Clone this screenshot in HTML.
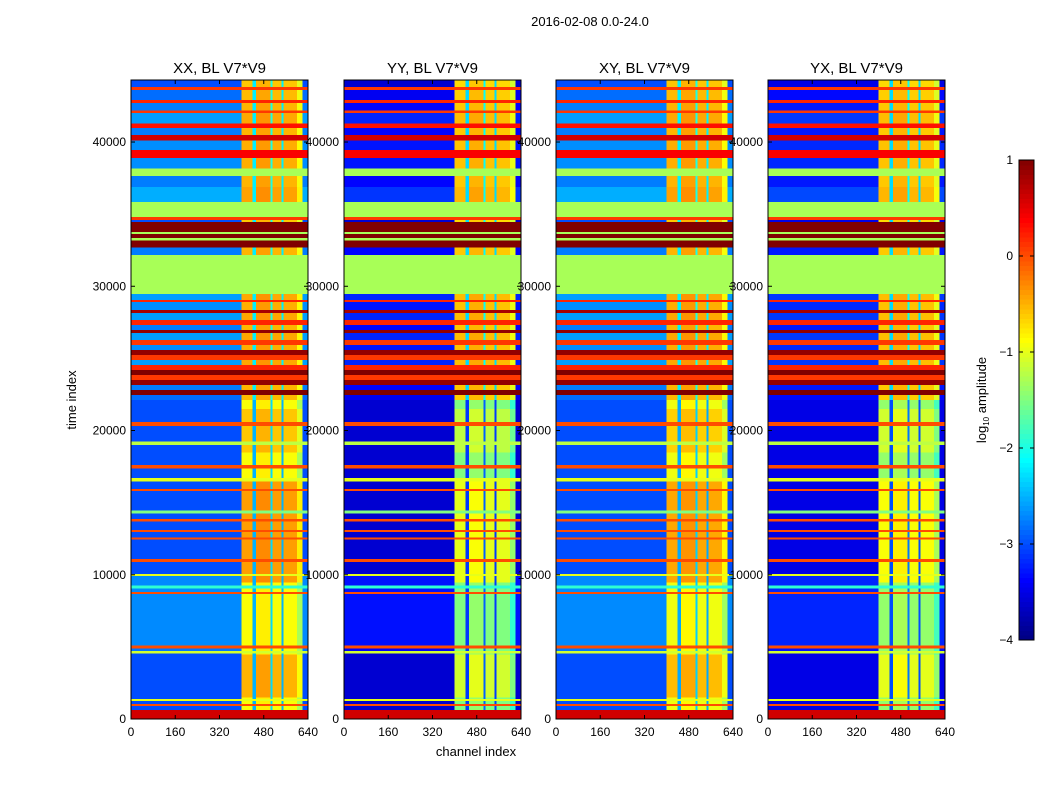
<!DOCTYPE html>
<html><head><meta charset="utf-8">
<style>
body{margin:0;background:#fff;font-family:"Liberation Sans",sans-serif;}
svg text{font-family:"Liberation Sans",sans-serif;fill:#000;}
</style></head>
<body>
<svg id="chart" width="1050" height="800" viewBox="0 0 1050 800" xmlns="http://www.w3.org/2000/svg">
<rect width="1050" height="800" fill="#fff"/>
<text x="590" y="26" font-size="13" text-anchor="middle">2016-02-08 0.0-24.0</text>
<text transform="translate(76,400) rotate(-90)" font-size="13" text-anchor="middle">time index</text>
<text x="476" y="756" font-size="13" text-anchor="middle">channel index</text>
<g id="panels"></g>
<g id="cbar"></g>
</svg>
<script>
const panelTitles = ["XX, BL V7*V9","YY, BL V7*V9","XY, BL V7*V9","YX, BL V7*V9"];
const panelBg = [-3.0,-3.6,-3.0,-3.5];
const panelBright = [-0.9,-1.5,-0.95,-1.4];
const panelBrightUpper = [-0.6,-0.7,-0.6,-0.7];
const xTicks = [0,160,320,480,640];
const yTicks = [0,10000,20000,30000,40000];
const cbTicks = [1,0,-1,-2,-3,-4];
// time bands: [t0, t1, kind, value] kind f=flat, n=noise (value=offset)
const bands = [
[43800,44300,'n',0],[43590,43800,'f',0.1],[42900,43590,'n',0.2],[42690,42900,'f',0.2],
[42200,42690,'n',0.3],[42000,42200,'f',0.1],[41300,42000,'n',0.5],[40960,41300,'f',0.3],
[40470,40960,'n',0.3],[40120,40470,'f',0.6],[39430,40120,'n',0.4],[38880,39430,'f',0.4],
[38180,38880,'n',0.4],[37630,38180,'f',-1.3],[36870,37630,'n',0.3],[35830,36870,'n',0.6],
[34790,35830,'f',-1.3],[34580,34790,'f',0.1],[34440,34580,'n',0],[33750,34440,'f',1.0],
[33610,33750,'f',-1.3],[33330,33610,'f',1.0],[33190,33330,'f',-1.3],[32700,33190,'f',1.0],
[32160,32700,'n',0.3],[29450,32160,'f',-1.3],[29040,29450,'n',0.5],[28900,29040,'f',0.2],
[28340,28900,'n',0.4],[28140,28340,'f',0.8],[27650,28140,'n',0.5],[27310,27650,'f',0.2],
[26960,27310,'n',0.3],[26750,26960,'f',0.9],[26260,26750,'n',0.5],[25920,26260,'f',0.1],
[25570,25920,'n',0.4],[25230,25570,'f',0.9],[24880,25230,'f',0.1],[24530,24880,'n',0.5],
[24190,24530,'f',0.2],[23840,24190,'f',1.0],[23490,23840,'f',0.1],[23150,23490,'f',0.9],
[22800,23150,'n',0.3],[22450,22800,'f',1.0],[22110,22450,'n',0.2],[20600,22110,'n',0],
[20300,20600,'f',0],[19250,20300,'n',0],[19000,19250,'f',-1.2],[17600,19000,'n',0],
[17350,17600,'f',0],[16700,17350,'n',0],[16450,16700,'f',-1.0],[15950,16450,'n',0],
[15800,15950,'f',0],[14450,15800,'n',0],[14250,14450,'f',-1.5],[13880,14250,'n',0],
[13700,13880,'f',0],[13120,13700,'n',0],[12950,13120,'f',0],[12600,12950,'n',0],
[12450,12600,'f',0],[11100,12450,'n',0],[10900,11100,'f',0],[10050,10900,'n',0],
[9900,10050,'f',-1.0],[9250,9900,'n',0.3],[9050,9250,'f',-1.9],[8800,9050,'n',0.3],
[8650,8800,'f',0],[5100,8650,'n',0.3],[4900,5100,'f',0],[4720,4900,'n',0.2],
[4550,4720,'f',-1.1],[1400,4550,'n',0],[1250,1400,'f',-1.0],[1050,1250,'n',0],
[900,1050,'f',0],[620,900,'n',0],[0,620,'f',0.6]
];
// bright-region boosts in time
const brightBoost = [[1500,4500,0.4],[9500,16500,0.5],[18500,21500,0.3]];
// channel segments: [c0, c1, type, offset]
const colSegs = [
[0,400,'bg',0],[400,440,'b',0],[440,452,'s',-1.6],[452,505,'b',0.1],[505,512,'s',-1.4],
[512,545,'b',0],[545,552,'s',-1.6],[552,600,'b',0],[600,620,'b',-0.4],[620,640,'bg',0]
];
const panelX = [131,344,556,768];
const PW = 177, PTOP = 80, PBOT = 719, TMAX = 44300, CMAX = 640;
const NS = 'http://www.w3.org/2000/svg';

function jet(v){
  let x = (v+4)/5; x = Math.max(0,Math.min(1,x));
  const f = t => Math.max(0,Math.min(1,t));
  const r = f(Math.min(4*x-1.5, -4*x+4.5));
  const g = f(Math.min(4*x-0.5, -4*x+3.5));
  const b = f(Math.min(4*x+0.5, -4*x+2.5));
  return `rgb(${Math.round(r*255)},${Math.round(g*255)},${Math.round(b*255)})`;
}
function mk(tag, attrs, parent){
  const e = document.createElementNS(NS, tag);
  for (const k in attrs) e.setAttribute(k, attrs[k]);
  parent.appendChild(e); return e;
}
const panelsG = document.getElementById('panels');
panelTitles.forEach((title, p) => {
  const x0 = panelX[p];
  const xs = c => x0 + c / CMAX * PW;
  const ys = t => PBOT - t / TMAX * (PBOT - PTOP);
  const g = mk('g', {}, panelsG);
  
  
  const hm = mk('g', {'shape-rendering':'crispEdges'}, g);
  
  
  bands.forEach(b => {
    const [t0, t1, kind, v] = b;
    if (kind === 'f') {
      const r = mk('rect', {x: xs(0), y: ys(t1), width: PW, height: ys(t0) - ys(t1) + 0.3, fill: jet(v)}, hm);
      
      
      return;
    }
    const cuts = [t0, t1];
    brightBoost.forEach(bb => { if (bb[0] > t0 && bb[0] < t1) cuts.push(bb[0]); if (bb[1] > t0 && bb[1] < t1) cuts.push(bb[1]); });
    cuts.sort((a,b)=>a-b);
    for (let i = 0; i < cuts.length - 1; i++) {
      const a = cuts[i], c = cuts[i+1], mid = (a+c)/2;
      let boost = 0;
      brightBoost.forEach(bb => { if (mid > bb[0] && mid < bb[1]) boost = bb[2]; });
      const upper = mid > 22000;
      colSegs.forEach(s => {
        let val;
        if (s[2] === 'bg') val = panelBg[p] + (upper ? v * 0.8 : v);
        else if (s[2] === 's') val = (upper ? panelBrightUpper[p] : panelBright[p]) + s[3];
        else val = (upper ? panelBrightUpper[p] + v * 0.3 : panelBright[p] + boost) + s[3];
        const r = mk('rect', {x: xs(s[0]), y: ys(c), width: xs(s[1]) - xs(s[0]) + 0.3, height: ys(a) - ys(c) + 0.3, fill: jet(val)}, hm);
        
        
      });
    }
  });
  const fr = mk('rect', {x: x0, y: PTOP, width: PW, height: PBOT - PTOP, fill: 'none', stroke: '#000', 'stroke-width': 1}, g);
  
  
  const tt = mk('text', {x: x0 + PW/2, y: 73, 'font-size': 15, 'text-anchor': 'middle'}, g);
  tt.textContent = title;
  
  
  xTicks.forEach(v => {
    const x = xs(v);
    mk('line', {x1: x, x2: x, y1: PBOT, y2: PBOT - 4, stroke: '#000'}, g);
    mk('line', {x1: x, x2: x, y1: PTOP, y2: PTOP + 4, stroke: '#000'}, g);
    const t = mk('text', {x: x, y: 736, 'font-size': 12, 'text-anchor': 'middle'}, g);
    t.textContent = v;
    
    
  });
  yTicks.forEach(v => {
    const y = ys(v);
    mk('line', {x1: x0, x2: x0 + 4, y1: y, y2: y, stroke: '#000'}, g);
    mk('line', {x1: x0 + PW, x2: x0 + PW - 4, y1: y, y2: y, stroke: '#000'}, g);
    const t = mk('text', {x: x0 - 5, y: y + 4, 'font-size': 12, 'text-anchor': 'end'}, g);
    t.textContent = v;
    
    
  });
});
const cb = document.getElementById('cbar');
const CBX = 1019, CBW = 15, CBT = 160, CBB = 640;
const cbv = v => CBB - (v + 4) / 5 * (CBB - CBT);
for (let i = 0; i < 100; i++) {
  const v0 = -4 + i * 0.05;
  const r = mk('rect', {x: CBX, y: cbv(v0 + 0.05), width: CBW, height: (CBB - CBT) / 100 + 0.5, fill: jet(v0 + 0.025), 'shape-rendering': 'crispEdges'}, cb);
  
  
}
mk('rect', {x: CBX, y: CBT, width: CBW, height: CBB - CBT, fill: 'none', stroke: '#000'}, cb);
cbTicks.forEach(v => {
  const y = cbv(v);
  mk('line', {x1: CBX, x2: CBX + 4, y1: y, y2: y, stroke: '#000'}, cb);
  mk('line', {x1: CBX + CBW, x2: CBX + CBW - 4, y1: y, y2: y, stroke: '#000'}, cb);
  const t = mk('text', {x: 1013, y: y + 4, 'font-size': 12, 'text-anchor': 'end'}, cb);
  t.textContent = v < 0 ? '\u2212' + (-v) : v;
  
  
});
const cl = mk('text', {transform: 'translate(986,400) rotate(-90)', 'font-size': 13, 'text-anchor': 'middle'}, cb);
cl.innerHTML = 'log<tspan font-size="8" dy="3">10</tspan><tspan dy="-3"> amplitude</tspan>';


</script>
</body></html>
